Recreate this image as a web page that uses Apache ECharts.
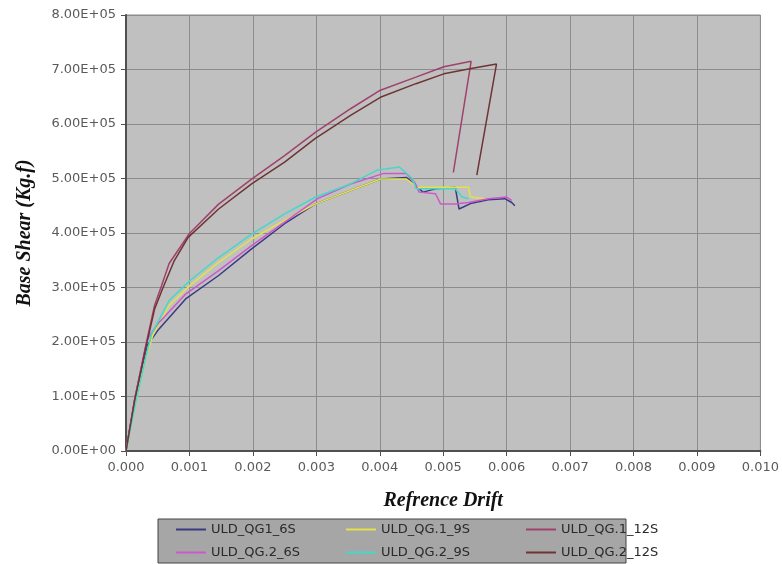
<!DOCTYPE html>
<html>
<head>
<meta charset="utf-8">
<title>Base Shear vs Refrence Drift</title>
<script src="https://cdn.jsdelivr.net/npm/echarts@6/dist/echarts.min.js"></script>
<style>
	html,body{margin:0;padding:0;background:#fff;}
	#main{width:782px;height:564px;}
</style>
</head>
<body>
<div id="main"></div>
<script>
// chart data
var seriesNames=['ULD_QG1_6S','ULD_QG.1_9S','ULD_QG.1_12S','ULD_QG.2_6S','ULD_QG.2_9S','ULD_QG.2_12S'];
var seriesColors=['#3a3a84','#e2e24a','#a0406c','#cc58cc','#44d8c8','#6e3434'];

var driftQG1_6S=[0,0.00014,0.00033,0.0005,0.00094,0.00146,0.00198,0.0025,0.00298,0.00354,0.00401,0.00442,0.00457,0.00468,0.00488,0.00519,0.00525,0.00543,0.00571,0.00597,0.00608,0.00613];
var shearQG1_6S=[0,95600,193000,221000,279000,322000,371000,417000,453000,478000,499000,502000,487000,475000,481000,484000,444000,454000,461000,463000,456000,450000];

var driftQG1_9S=[0,0.00016,0.00031,0.00042,0.00068,0.001,0.00146,0.00198,0.0025,0.00298,0.00354,0.00401,0.00442,0.0046,0.0054,0.00543,0.00566];
var shearQG1_9S=[0,92000,169000,211000,267000,303000,346000,389000,423000,453000,478000,499000,499000,484000,484000,466000,463000];

var driftQG1_12S=[0,0.00014,0.00031,0.00045,0.00056,0.00068,0.001,0.00146,0.00198,0.0025,0.00299,0.00354,0.00401,0.00457,0.00501,0.00544,0.00516];
var shearQG1_12S=[0,97000,193000,267000,303000,344000,399000,453000,499000,542000,585000,628000,662000,686000,705000,715000,511000];

var driftQG2_6S=[0,0.00014,0.00034,0.0005,0.00094,0.00146,0.00198,0.0025,0.00302,0.00354,0.00405,0.00442,0.00455,0.00462,0.00488,0.00496,0.00519,0.0054,0.00571,0.006,0.00608];
var shearQG2_6S=[0,97000,206000,233000,288000,331000,377000,420000,463000,490000,509000,509000,493000,475000,472000,453000,453000,456000,463000,466000,460000];

var driftQG2_9S=[0,0.00016,0.0003,0.0004,0.00068,0.001,0.00146,0.00198,0.0025,0.00299,0.00354,0.00395,0.00431,0.00452,0.00457,0.00519,0.0053,0.0054];
var shearQG2_9S=[0,92000,165000,214000,276000,312000,355000,398000,435000,466000,490000,515000,521000,499000,481000,481000,466000,463000];

var driftQG2_12S=[0,0.00014,0.00031,0.00045,0.00057,0.00076,0.00098,0.00146,0.00198,0.0025,0.00298,0.00354,0.00401,0.00457,0.00501,0.00544,0.00584,0.00553];
var shearQG2_12S=[0,95000,189000,260000,296000,349000,392000,444000,490000,530000,573000,616000,649000,674000,692000,702000,710000,506000];

var yTickLabels=['0.00E+00','1.00E+05','2.00E+05','3.00E+05','4.00E+05','5.00E+05','6.00E+05','7.00E+05','8.00E+05'];
var xTickLabels=['0.000','0.001','0.002','0.003','0.004','0.005','0.006','0.007','0.008','0.009','0.010'];

window.onload=function(){
	var myChart=echarts.init(document.getElementById('main'));

	var drifts=[driftQG1_6S,driftQG1_9S,driftQG1_12S,driftQG2_6S,driftQG2_9S,driftQG2_12S];
	var shears=[shearQG1_6S,shearQG1_9S,shearQG1_12S,shearQG2_6S,shearQG2_9S,shearQG2_12S];

	function pairs(xs,ys){
		var out=[];
		for(var i=0;i<xs.length;i++){out.push([xs[i],ys[i]]);}
		return out;
	}

	var series=[];
	for(var i=0;i<seriesNames.length;i++){
		series.push({
			name:seriesNames[i],
			type:'line',
			data:pairs(drifts[i],shears[i]),
			symbol:'none',
			animation:false,
			lineStyle:{color:seriesColors[i],width:1.5},
			itemStyle:{color:seriesColors[i]}
		});
	}

	// one legend per item so the columns line up like the original box
	var legendLeft=[176,346,526];
	var legendTop=[523,546];
	var legends=[];
	for(var j=0;j<seriesNames.length;j++){
		legends.push({
			data:[seriesNames[j]],
			left:legendLeft[j%3],
			top:legendTop[Math.floor(j/3)],
			padding:0,
			icon:'rect',
			itemWidth:30,
			itemHeight:2,
			itemGap:4,
			selectedMode:false,
			textStyle:{color:'#2a2a2a',fontFamily:'DejaVu Sans',fontSize:13}
		});
	}

	var labelFont={color:'#5a5a5a',fontFamily:'DejaVu Sans',fontSize:13};
	var titleFont={color:'#111',fontFamily:'Liberation Serif',fontSize:20,fontWeight:'bold',fontStyle:'italic'};

	var option={
		backgroundColor:'#fff',
		animation:false,
		graphic:[{
			type:'rect',
			z:0,
			shape:{x:158,y:519,width:468,height:44},
			style:{fill:'#a6a6a6',stroke:'#444',lineWidth:1}
		}],
		legend:legends,
		grid:{
			left:126,right:19,top:15,bottom:113,
			show:true,
			backgroundColor:'#c0c0c0',
			borderColor:'#8a8a8a',
			borderWidth:1
		},
		xAxis:{
			type:'value',
			min:0,max:0.01,interval:0.001,
			name:'Refrence Drift',
			nameLocation:'middle',
			nameGap:40,
			nameTextStyle:titleFont,
			axisLine:{show:true,lineStyle:{color:'#505050',width:2}},
			axisTick:{show:true,length:5,lineStyle:{color:'#505050'}},
			axisLabel:Object.assign({margin:10,formatter:function(v,idx){return xTickLabels[idx];}},labelFont),
			splitLine:{show:true,lineStyle:{color:'#8c8c8c',width:1}}
		},
		yAxis:{
			type:'value',
			min:0,max:800000,interval:100000,
			name:'Base Shear (Kg.f)',
			nameLocation:'middle',
			nameRotate:90,
			nameGap:91,
			nameTextStyle:titleFont,
			axisLine:{show:true,lineStyle:{color:'#505050',width:2}},
			axisTick:{show:true,length:5,lineStyle:{color:'#505050'}},
			axisLabel:Object.assign({margin:10,formatter:function(v,idx){return yTickLabels[idx];}},labelFont),
			splitLine:{show:true,lineStyle:{color:'#8c8c8c',width:1}}
		},
		series:series
	};
	myChart.setOption(option);
};
</script>
</body>
</html>
